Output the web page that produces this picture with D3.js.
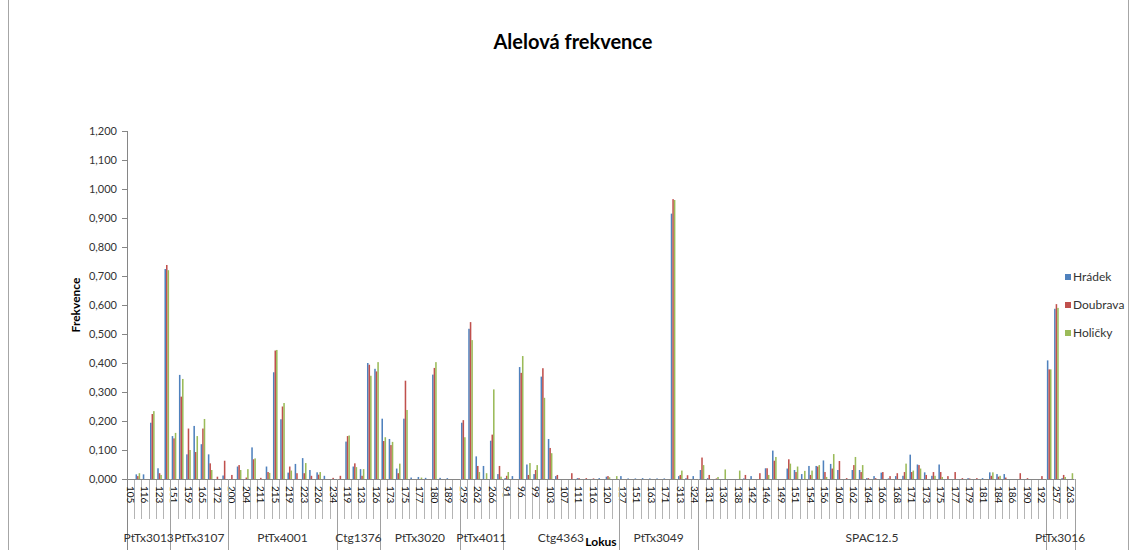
<!DOCTYPE html>
<html><head><meta charset="utf-8">
<script src="https://cdn.jsdelivr.net/npm/d3@7"></script>
<style>body{margin:0;background:#fff}svg{display:block;font-family:Lato,"Open Sans",sans-serif}</style>
</head><body><svg id="c" width="1136" height="550"></svg>
<script>
const loci = ["PtTx3013","PtTx3107","PtTx4001","Ctg1376","PtTx3020","PtTx4011","Ctg4363","PtTx3049","SPAC12.5","PtTx3016"];
const lociSizes = [6,8,15,6,11,6,16,11,48,4];
const alleles = [
"105","113","116","119","123","125",
"151","155","159","162","165","168","172","175",
"200","202","204","207","211","213","215","217","219","221","223","225","226","230","234",
"117","119","121","123","124","126",
"171","173","174","175","176","177","179","180","183","189","191",
"259","260","262","264","266","268",
"91","94","96","98","99","101","103","105","107","109","111","113","116","118","120","122",
"127","149","151","157","163","167","171","173","313","318","324",
"129","131","134","136","137","138","140","142","144","146","147","149","150","151","153","154","155","156","158","160","161","162","163","164","165","166","167","168","170","171","172","173","174","175","176","177","178","179","180","181","183","184","185","186","188","190","191","192",
"255","257","260","263"];
const seriesNames = ["Hrádek","Doubrava","Holičky"];
const seriesColors = ["#4F81BD","#C0504D","#9BBB59"];
const hradek = [
0,0.016,0.016,0.194,0.037,0.724,
0.148,0.359,0.085,0.183,0.12,0.085,0,0.012,
0,0.043,0,0.109,0,0.043,0.368,0.206,0.022,0.052,0.072,0.031,0.023,0.011,0,
0,0.129,0.043,0.034,0.40,0.38,
0.208,0.138,0.036,0.208,0.005,0.007,0.004,0.36,0.004,0.003,0,
0.194,0.518,0.078,0.045,0.132,0.017,
0.003,0.01,0.386,0.05,0.017,0.353,0.138,0.01,0,0,0.003,0,0,0.003,0.008,0,
0.01,0.002,0.002,0.003,0.002,0.002,0.002,0.915,0.01,0.003,0.01,
0.031,0.003,0,0,0,0,0.002,0.01,0,0.037,0.098,0,0.036,0.031,0.017,0.045,0.045,0.064,0.052,0.031,0,0.031,0.031,0.003,0.01,0.022,0.002,0.01,0.011,0.084,0.05,0.023,0.011,0.05,0,0,0,0.003,0,0.003,0.023,0.017,0.017,0,0,0,0,0,
0.409,0.587,0.003,0];
const doubrava = [
0,0.01,0,0.224,0.02,0.738,
0.14,0.284,0.174,0.093,0.174,0.054,0.008,0.063,
0.014,0.048,0.005,0.068,0.004,0.024,0.443,0.25,0.043,0.02,0.02,0.011,0.015,0,0.004,
0.011,0.148,0.054,0.011,0.394,0.371,
0.131,0.117,0.02,0.339,0,0,0,0.383,0,0,0,
0.203,0.541,0.045,0,0.153,0.045,
0.011,0,0.366,0.014,0.031,0.382,0.107,0.014,0,0.02,0.003,0.003,0.002,0,0.01,0,
0,0,0,0,0,0,0,0.965,0.014,0.013,0,
0.074,0.014,0.002,0,0,0,0.014,0,0.02,0.037,0.063,0,0.068,0.024,0,0.014,0.043,0.024,0.036,0.062,0.003,0.048,0.024,0.003,0.003,0.024,0.01,0.02,0.024,0.024,0.048,0.014,0.024,0.024,0.01,0.024,0.003,0.002,0.003,0,0.011,0.008,0.005,0,0.02,0.003,0,0.01,
0.378,0.603,0.014,0];
const holicky = [
0,0.02,0,0.234,0.014,0.72,
0.159,0.345,0.10,0.148,0.207,0.031,0,0,
0,0.031,0.034,0.071,0,0.021,0.445,0.262,0.029,0,0.055,0,0.024,0,0,
0,0.15,0.041,0.034,0.356,0.403,
0.144,0.128,0.053,0.238,0,0.005,0,0.403,0,0,0,
0.144,0.479,0.024,0.02,0.309,0.008,
0.024,0,0.424,0.055,0.048,0.28,0.089,0,0,0,0,0,0,0,0.006,0.01,
0,0,0,0,0,0,0,0.962,0.029,0,0,
0.048,0,0.007,0.033,0,0.029,0,0,0,0.014,0.076,0,0.053,0.043,0.028,0.029,0.048,0.007,0.086,0,0,0.076,0.048,0,0,0,0,0,0.053,0.029,0.036,0,0.011,0.007,0,0,0,0,0,0,0.023,0.011,0,0,0,0,0,0,
0.378,0.59,0.007,0.02];
const yTicks = [0,0.1,0.2,0.3,0.4,0.5,0.6,0.7,0.8,0.9,1.0,1.1,1.2];
const seriesData = [hradek, doubrava, holicky];

const svg = d3.select("#c");
const axisCol = "#868686";
svg.append("line").attr("x1",8.5).attr("x2",8.5).attr("y1",0).attr("y2",550).attr("stroke","#a6a6a6");
svg.append("line").attr("x1",1128.5).attr("x2",1128.5).attr("y1",0).attr("y2",550).attr("stroke","#a6a6a6");

const x = d3.scaleBand().domain(d3.range(alleles.length)).range([127, 1074.5]).padding(0);
const bw = x.bandwidth();
const xs = d3.scaleBand().domain(d3.range(3)).range([bw*0.18, bw*0.82]).padding(0);
const y = d3.scaleLinear().domain([0,1.2]).range([479,131]);

svg.append("text").attr("x",573).attr("y",49).attr("text-anchor","middle")
  .style("font-size","20px").style("font-weight","bold").attr("fill","#000").text("Alelová frekvence");

seriesData.forEach((arr, s) => {
  svg.append("g").selectAll("rect").data(arr).join("rect")
    .attr("x",(d,i)=>x(i)+xs(s)).attr("width",xs.bandwidth())
    .attr("y",d=>y(d)).attr("height",d=>y(0)-y(d))
    .attr("fill",seriesColors[s]);
});

const ya = svg.append("g").attr("transform","translate(127,0)")
  .call(d3.axisLeft(y).tickValues(yTicks).tickSize(5).tickPadding(5)
    .tickFormat(d=>d.toFixed(3).replace(".",",")));
ya.select(".domain").remove();
ya.selectAll(".tick line").attr("stroke",axisCol);
ya.selectAll(".tick text").style("font-size","11px").attr("fill","#333").style("font-family","Lato");
svg.append("line").attr("x1",127.5).attr("x2",127.5).attr("y1",y(1.2)).attr("y2",550).attr("stroke",axisCol);

// category boundary lines
svg.append("g").selectAll("line").data(d3.range(1,alleles.length+1)).join("line")
  .attr("x1",i=>Math.round(x(0)+i*bw)+0.5).attr("x2",i=>Math.round(x(0)+i*bw)+0.5)
  .attr("y1",479).attr("y2",519).attr("stroke","#b4b4b4");

const xa = svg.append("g").attr("transform","translate(0,479)")
  .call(d3.axisBottom(x).tickValues(d3.range(0,alleles.length,2)).tickSize(0).tickFormat(i=>alleles[i]));
xa.select(".domain").remove();
xa.selectAll(".tick text").attr("transform","rotate(90)").attr("x",7).attr("y",0).attr("dy","0.36em")
  .style("text-anchor","start").style("font-size","10px").attr("fill","#111").style("font-family","Lato");
svg.append("line").attr("x1",127).attr("x2",1074.5).attr("y1",479.5).attr("y2",479.5).attr("stroke",axisCol);

let start = 0;
loci.forEach((name, gi) => {
  const end = start + lociSizes[gi];
  const xe = x(0) + end*bw;
  svg.append("line").attr("x1",Math.round(xe)+0.5).attr("x2",Math.round(xe)+0.5)
    .attr("y1",479).attr("y2",550).attr("stroke","#a0a0a0");
  const cx = x(0) + (start+end)/2*bw;
  svg.append("text").attr("x",cx).attr("y",542).attr("text-anchor","middle")
    .style("font-size","12px").attr("fill","#333").text(name);
  start = end;
});

svg.append("text").attr("x",601).attr("y",546).attr("text-anchor","middle")
  .style("font-size","12px").style("font-weight","bold").text("Lokus");
svg.append("text").attr("transform","translate(80,305) rotate(-90)").attr("text-anchor","middle")
  .style("font-size","12px").style("font-weight","bold").text("Frekvence");

const leg = svg.append("g");
seriesNames.forEach((n,i)=>{
  const cy = 277 + i*28;
  leg.append("rect").attr("x",1065).attr("y",cy-3).attr("width",6).attr("height",6).attr("fill",seriesColors[i]);
  leg.append("text").attr("x",1073).attr("y",cy).attr("dy","0.35em").style("font-size","12px").attr("fill","#333").text(n);
});
</script></body></html>
